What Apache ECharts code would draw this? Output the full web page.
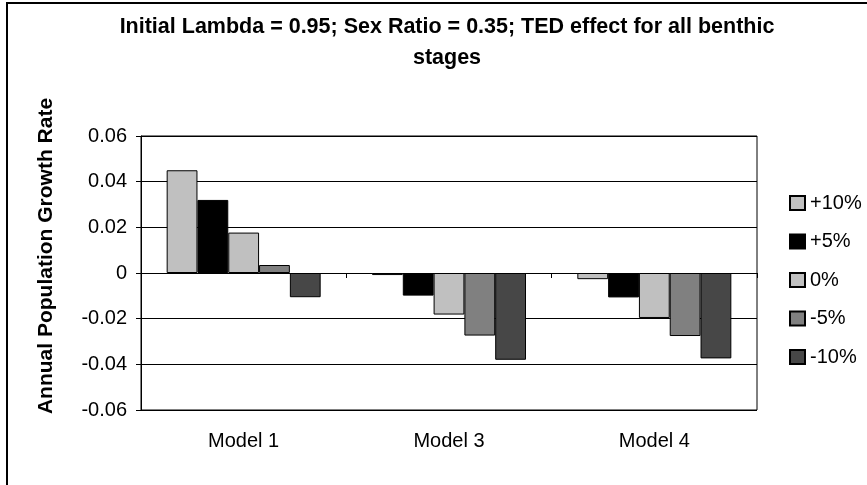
<!DOCTYPE html>
<html>
<head>
<meta charset="utf-8">
<script src="https://cdn.jsdelivr.net/npm/echarts@6/dist/echarts.min.js"></script>
<style>
  html, body { margin: 0; padding: 0; background: #fff; }
  #chart { width: 867px; height: 485px; }
</style>
</head>
<body>
<div id="chart"></div>
<script>
// Categories and series values (annual population growth rate)
const categories = ['Model 1', 'Model 3', 'Model 4'];
const seriesNames = ['+10%', '+5%', '0%', '-5%', '-10%'];
const plus10 = [0.045, -0.0009, -0.0027];
const plus5 = [0.032, -0.0099, -0.0107];
const zero = [0.0177, -0.0182, -0.0197];
const minus5 = [0.0035, -0.0274, -0.0276];
const minus10 = [-0.0106, -0.038, -0.0374];
const yTicks = [-0.06, -0.04, -0.02, 0, 0.02, 0.04, 0.06];

const seriesValues = [plus10, plus5, zero, minus5, minus10];
const seriesColors = ['#c0c0c0', '#000000', '#c0c0c0', '#808080', '#474747'];

const FONT = 'Liberation Sans, Arial, sans-serif';

const chart = echarts.init(document.getElementById('chart'), null, { renderer: 'canvas' });

const option = {
  backgroundColor: '#ffffff',
  animation: false,
  textStyle: { fontFamily: FONT },
  grid: {
    left: 141, top: 136, right: 110, bottom: 75,
    show: true, borderColor: '#000', borderWidth: 1, backgroundColor: '#fff'
  },
  legend: {
    orient: 'vertical',
    left: 784, top: 188,
    itemWidth: 15, itemHeight: 14,
    itemGap: 18.5,
    data: seriesNames,
    textStyle: { fontFamily: FONT, fontSize: 20, color: '#000', lineHeight: 20 },
    icon: 'rect'
  },
  xAxis: [
    {
      type: 'category',
      data: categories,
      position: 'bottom',
      axisLine: { show: false, onZero: false },
      axisTick: { show: false },
      axisLabel: { fontFamily: FONT, fontSize: 20, color: '#000', margin: 21 },
      splitLine: { show: false }
    },
    {
      type: 'category',
      data: categories,
      position: 'bottom',
      axisLine: { show: true, onZero: true, lineStyle: { color: '#000', width: 1 } },
      axisTick: { show: true, length: 5, lineStyle: { color: '#000' } },
      axisLabel: { show: false }
    }
  ],
  yAxis: {
    type: 'value',
    min: yTicks[0], max: yTicks[yTicks.length - 1], interval: 0.02,
    axisLine: { show: true, lineStyle: { color: '#000', width: 1 } },
    axisTick: { show: true, length: 5, lineStyle: { color: '#000' } },
    axisLabel: {
      fontFamily: FONT, fontSize: 20, color: '#000', margin: 14,
      formatter: v => {
        const r = Math.round(v * 100) / 100;
        return r === 0 ? '0' : r.toFixed(2);
      }
    },
    splitLine: { show: true, lineStyle: { color: '#000', width: 1 } }
  },
  series: seriesNames.map((name, i) => ({
    name,
    type: 'bar',
    xAxisIndex: 0,
    data: seriesValues[i],
    barGap: '0%',
    barCategoryGap: '25%',
    itemStyle: { color: seriesColors[i], borderColor: '#000', borderWidth: 1 }
  })),
  graphic: [
    {
      type: 'rect',
      shape: { x: 7, y: 3, width: 900, height: 520 },
      style: { fill: 'none', stroke: '#000', lineWidth: 2 },
      silent: true
    },
    {
      type: 'text',
      x: 447, y: 27,
      style: {
        text: 'Initial Lambda = 0.95; Sex Ratio = 0.35; TED effect for all benthic',
        font: 'bold 21.5px ' + FONT, fill: '#000', align: 'center', verticalAlign: 'middle'
      }
    },
    {
      type: 'text',
      x: 447, y: 58,
      style: {
        text: 'stages',
        font: 'bold 21.5px ' + FONT, fill: '#000', align: 'center', verticalAlign: 'middle'
      }
    },
    {
      type: 'text',
      x: 46, y: 256,
      rotation: Math.PI / 2,
      style: {
        text: 'Annual Population Growth Rate',
        font: 'bold 21px ' + FONT, fill: '#000', align: 'center', verticalAlign: 'middle'
      }
    }
  ]
};

chart.setOption(option);
</script>
</body>
</html>
